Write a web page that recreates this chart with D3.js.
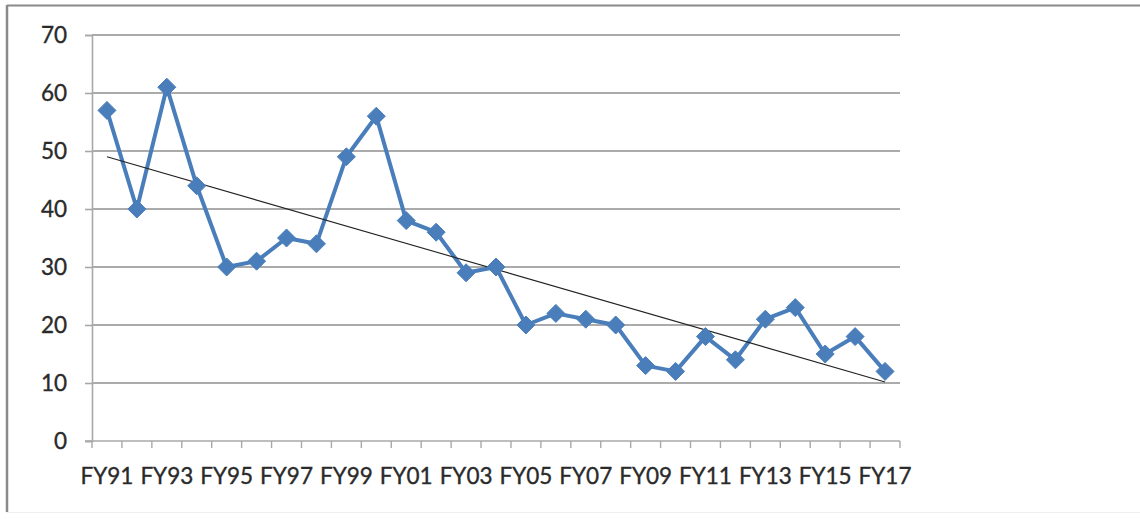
<!DOCTYPE html>
<html>
<head>
<meta charset="utf-8">
<script src="https://cdn.jsdelivr.net/npm/d3@7"></script>
<style>
  html, body { margin: 0; padding: 0; background: #fff; }
  svg { display: block; }
  .lbl { font-family: Lato, "Open Sans", sans-serif; font-size: 22.5px; fill: #2a2a2a; stroke: #2a2a2a; stroke-width: 0.35px; }
</style>
</head>
<body>
<svg id="chart" width="1140" height="519"></svg>
<script>
// Fiscal years on the category axis
const years = ["FY91","FY92","FY93","FY94","FY95","FY96","FY97","FY98","FY99","FY00",
               "FY01","FY02","FY03","FY04","FY05","FY06","FY07","FY08","FY09","FY10",
               "FY11","FY12","FY13","FY14","FY15","FY16","FY17"];
// Yearly counts
const counts = [57, 40, 61, 44, 30, 31, 35, 34, 49, 56,
                38, 36, 29, 30, 20, 22, 21, 20, 13, 12,
                18, 14, 21, 23, 15, 18, 12];
// Value axis ticks
const yTicks = [0, 10, 20, 30, 40, 50, 60, 70];
// Every other year is labelled
const xLabels = years.filter((d, i) => i % 2 === 0);

const svg = d3.select("#chart");
const plot = { left: 92, right: 900, top: 35, bottom: 441 };

// Chart frame
svg.append("line").attr("x1", 7).attr("x2", 1140).attr("y1", 5.5).attr("y2", 5.5)
  .attr("stroke", "#8a8a8a").attr("stroke-width", 2);
svg.append("line").attr("x1", 7).attr("x2", 7).attr("y1", 5).attr("y2", 512)
  .attr("stroke", "#8a8a8a").attr("stroke-width", 2.5);
svg.append("line").attr("x1", 7).attr("x2", 1140).attr("y1", 512.5).attr("y2", 512.5)
  .attr("stroke", "#eeeeee").attr("stroke-width", 1);

const x = d3.scaleBand().domain(years).range([plot.left, plot.right]).padding(0);
const y = d3.scaleLinear().domain([0, 70]).range([plot.bottom, plot.top]);

// Horizontal gridlines
svg.append("g").selectAll("line").data(yTicks.filter(d => d > 0)).join("line")
  .attr("x1", plot.left).attr("x2", plot.right)
  .attr("y1", d => y(d)).attr("y2", d => y(d))
  .attr("stroke", "#ababab").attr("stroke-width", 1.8);

// Value axis
const yAxis = svg.append("g").attr("transform", `translate(${plot.left},0)`)
  .call(d3.axisLeft(y).tickValues(yTicks).tickSize(7).tickPadding(18));
yAxis.select(".domain").attr("stroke", "#a8a8a8").attr("stroke-width", 1.6);
yAxis.selectAll(".tick line").attr("stroke", "#a8a8a8").attr("stroke-width", 1.6);
yAxis.selectAll(".tick text").attr("class", "lbl").attr("fill", null).style("font-family", null).style("font-size", null);
yAxis.attr("font-family", null).attr("font-size", null);

// Category axis: tick marks on band edges, labels centred on bands
const edges = years.map(d => x(d)).concat([plot.right]);
const xAxis = svg.append("g").attr("transform", `translate(0,${plot.bottom})`);
xAxis.append("line").attr("x1", plot.left - 7).attr("x2", plot.right)
  .attr("stroke", "#a8a8a8").attr("stroke-width", 1.6);
xAxis.selectAll("line.edge").data(edges).join("line").attr("class", "edge")
  .attr("x1", d => d).attr("x2", d => d).attr("y1", 0).attr("y2", 7)
  .attr("stroke", "#a8a8a8").attr("stroke-width", 1.4);
xAxis.selectAll("text").data(xLabels).join("text")
  .attr("class", "lbl")
  .attr("x", d => x(d) + x.bandwidth() / 2).attr("y", 43)
  .attr("text-anchor", "middle")
  .text(d => d);

// Data series
const pts = years.map((d, i) => ({ year: d, value: counts[i] }));
const line = d3.line().x(d => x(d.year) + x.bandwidth() / 2).y(d => y(d.value));
svg.append("path").datum(pts).attr("d", line)
  .attr("fill", "none").attr("stroke", "#4a7ebb").attr("stroke-width", 4)
  .attr("stroke-linejoin", "round");

// Least-squares linear trend
const n = counts.length;
const mx = d3.mean(counts, (d, i) => i);
const my = d3.mean(counts);
const slope = d3.sum(counts, (d, i) => (i - mx) * (d - my)) / d3.sum(counts, (d, i) => (i - mx) ** 2);
const icpt = my - slope * mx;
const trend = [0, n - 1].map(i => ({ year: years[i], value: icpt + slope * i }));
svg.append("path").datum(trend).attr("d", line)
  .attr("fill", "none").attr("stroke", "#222").attr("stroke-width", 1.1);

// Diamond markers
svg.append("g").selectAll("path").data(pts).join("path")
  .attr("transform", d => `translate(${x(d.year) + x.bandwidth() / 2},${y(d.value)})`)
  .attr("d", "M0,-9L9,0L0,9L-9,0Z")
  .attr("fill", "#4a7ebb").attr("stroke", "#4a7ebb").attr("stroke-width", 1);
</script>
</body>
</html>
